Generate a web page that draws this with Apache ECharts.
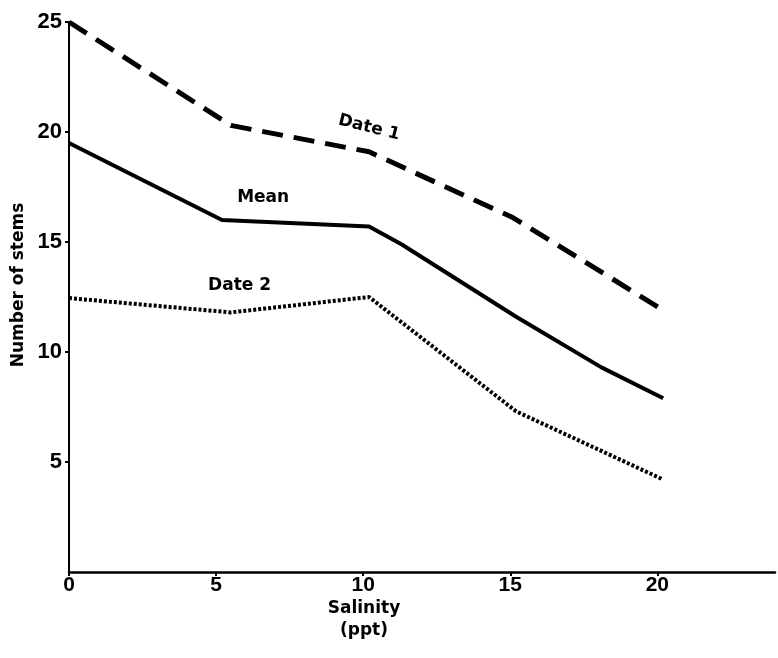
<!DOCTYPE html>
<html>
<head>
<meta charset="utf-8">
<script src="https://cdn.jsdelivr.net/npm/echarts@6/dist/echarts.min.js"></script>
<style>html,body{margin:0;padding:0;background:#fff}#c{width:778px;height:658px}</style>
</head>
<body>
<div id="c"></div>
<script>
// Data
var date1X = [0, 5.5, 10.2, 15.1, 20.2];
var date1Y = [25, 20.3, 19.1, 16.1, 11.9];
var meanX = [0, 5.2, 10.2, 11.3, 15.2, 18.1, 20.2];
var meanY = [19.5, 16.0, 15.7, 14.9, 11.6, 9.3, 7.9];
var date2X = [0, 5.5, 10.2, 15.2, 20.2];
var date2Y = [12.45, 11.8, 12.5, 7.3, 4.2];
var xTicks = [0, 5, 10, 15, 20];
var yTicks = [5, 10, 15, 20, 25];
var labelTexts = ['Date 1', 'Mean', 'Date 2'];
var labelX = [10.2, 6.6, 5.8];
var labelY = [20.2, 17.0, 13.0];
var labelRot = [-14, 0, 0];

function pairs(xs, ys) { return xs.map(function (x, i) { return [x, ys[i]]; }); }

var chart = echarts.init(document.getElementById('c'));
var font = 'DejaVu Sans, Liberation Sans, Arial, sans-serif';
var tickFont = 'Liberation Sans, Arial, sans-serif';
chart.setOption({
  animation: false,
  backgroundColor: '#fff',
  grid: { left: 69, right: 3, top: 22, bottom: 86, containLabel: false },
  xAxis: {
    type: 'value', min: 0, max: 24, interval: 5,
    axisLine: { lineStyle: { color: '#000', width: 2.5 } },
    axisTick: { show: true, length: 4, lineStyle: { color: '#000', width: 2 } },
    splitLine: { show: false },
    axisLabel: {
      showMaxLabel: false, color: '#000', fontSize: 21, fontWeight: 'bold', fontFamily: tickFont, margin: 3,
      formatter: function (v) { return xTicks.indexOf(v) >= 0 ? String(v) : ''; }
    }
  },
  yAxis: {
    type: 'value', min: 0, max: 25, interval: 5,
    axisLine: { lineStyle: { color: '#000', width: 2 } },
    axisTick: { show: true, length: 4, lineStyle: { color: '#000', width: 2 } },
    splitLine: { show: false },
    axisLabel: {
      showMinLabel: false, color: '#000', fontSize: 22, fontWeight: 'bold', fontFamily: tickFont, margin: 7,
      formatter: function (v) { return yTicks.indexOf(v) >= 0 ? String(v) : ''; }
    }
  },
  series: [
    { type: 'line', data: pairs(date1X, date1Y), symbol: 'none', lineStyle: { color: '#000', width: 5, type: [21, 11] } },
    { type: 'line', data: pairs(meanX, meanY), symbol: 'none', lineStyle: { color: '#000', width: 4 } },
    { type: 'line', data: pairs(date2X, date2Y), symbol: 'none', lineStyle: { color: '#000', width: 4, type: [3, 2] } }
  ]
});

var graphics = [
  { type: 'text', x: 364, y: 598, style: { text: 'Salinity\n(ppt)', fill: '#000', font: 'bold 17px ' + font, align: 'center', lineHeight: 22 } },
  { type: 'text', x: 19, y: 285, rotation: Math.PI / 2, style: { text: 'Number of stems', fill: '#000', font: 'bold 17px ' + font, align: 'center', verticalAlign: 'middle' } }
];
labelTexts.forEach(function (t, i) {
  var p = chart.convertToPixel({ gridIndex: 0 }, [labelX[i], labelY[i]]);
  graphics.push({
    type: 'text', x: p[0], y: p[1], rotation: labelRot[i] * Math.PI / 180,
    style: { text: t, fill: '#000', font: 'bold 17px ' + font, align: 'center', verticalAlign: 'middle' }
  });
});
chart.setOption({ graphic: graphics });
</script>
</body>
</html>
